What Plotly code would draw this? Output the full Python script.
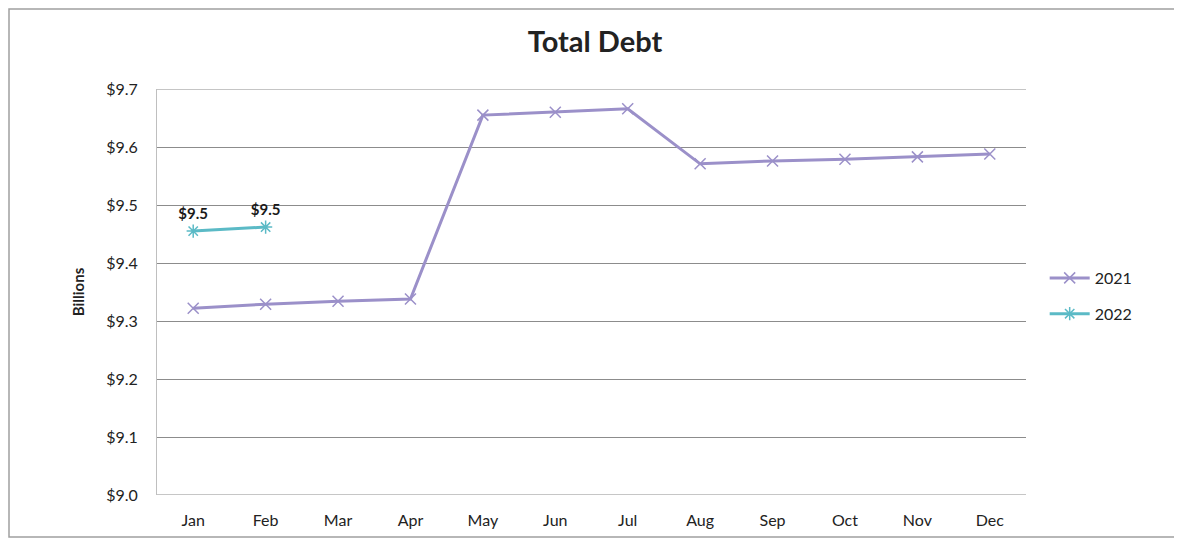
import plotly.graph_objects as go

months = ["Jan", "Feb", "Mar", "Apr", "May", "Jun", "Jul", "Aug", "Sep", "Oct", "Nov", "Dec"]
debt_2021 = [9.322, 9.329, 9.334, 9.338, 9.655, 9.660, 9.666, 9.571, 9.576, 9.579, 9.583, 9.588]
months_2022 = ["Jan", "Feb"]
debt_2022 = [9.455, 9.462]
tick_vals = [9.0, 9.1, 9.2, 9.3, 9.4, 9.5, 9.6, 9.7]
tick_text = ["$9.0", "$9.1", "$9.2", "$9.3", "$9.4", "$9.5", "$9.6", "$9.7"]

FONT = "Lato, 'Open Sans', sans-serif"
W, H = 1174, 531
ML, MR, MT, MB = 149, 156, 81, 44
PW, PH = W - ML - MR, H - MT - MB

fig = go.Figure()
fig.add_trace(go.Scatter(
    x=months, y=debt_2021, name="2021", mode="lines+markers", legendgroup="a",
    line=dict(color="#9b90c9", width=3),
    marker=dict(symbol="x-thin-open", size=11, line=dict(color="#9b90c9", width=1.5)),
))
fig.add_trace(go.Scatter(
    x=months_2022, y=debt_2022, name="2022", mode="lines+markers+text", legendgroup="b",
    line=dict(color="#5bbac6", width=3),
    marker=dict(symbol="asterisk-open", size=11, line=dict(color="#5bbac6", width=1.5)),
    text=["$%.1f" % v for v in debt_2022], textposition="top center",
    textfont=dict(family=FONT, size=15, color="#1a1a1a", weight="bold"),
))
shapes = [dict(type="line", xref="paper", yref="y", x0=0, x1=1, y0=v, y1=v,
               line=dict(color="#8c8c8c", width=1), layer="below")
          for v in (tick_vals[0], tick_vals[-1])]
shapes.append(dict(type="rect", xref="paper", yref="paper",
                   x0=-(ML - 1) / PW, x1=1 + (MR + 30) / PW,
                   y0=-(MB - 2) / PH, y1=1 + (MT - 1) / PH,
                   line=dict(color="#a0a0a0", width=1.5)))
fig.update_layout(
    width=W, height=H,
    paper_bgcolor="white", plot_bgcolor="white",
    margin=dict(l=ML, r=MR, t=MT, b=MB, autoexpand=False),
    title=dict(text="<b>Total Debt</b>", x=0.5, xanchor="center", y=1 - 34 / H, yanchor="middle",
               font=dict(family=FONT, size=29, color="#222222")),
    font=dict(family=FONT, size=15, color="#222222"),
    showlegend=True,
    legend=dict(x=1.0215, xanchor="left", y=0.5 - 4 / PH, yanchor="middle", traceorder="grouped",
                font=dict(family=FONT, size=16, color="#222222"), tracegroupgap=12,
                itemwidth=40),
    xaxis=dict(type="category", categoryorder="array", categoryarray=months,
               range=[-0.5, 11.5], showgrid=False, showline=False, ticks="",
               ticklabelstandoff=14,
               tickfont=dict(family=FONT, size=16, color="#222222")),
    yaxis=dict(range=[9.0, 9.7], tickvals=tick_vals, ticktext=tick_text,
               showgrid=True, gridcolor="#8c8c8c", gridwidth=1,
               showline=True, linecolor="#bfbfbf", linewidth=1, zeroline=False,
               ticks="", ticklen=0, ticklabelstandoff=15,
               title=dict(text="<b>Billions</b>", font=dict(family=FONT, size=15, color="#222222"), standoff=17),
               tickfont=dict(family=FONT, size=16, color="#222222")),
    shapes=shapes,
)
fig.write_html("out.html")
